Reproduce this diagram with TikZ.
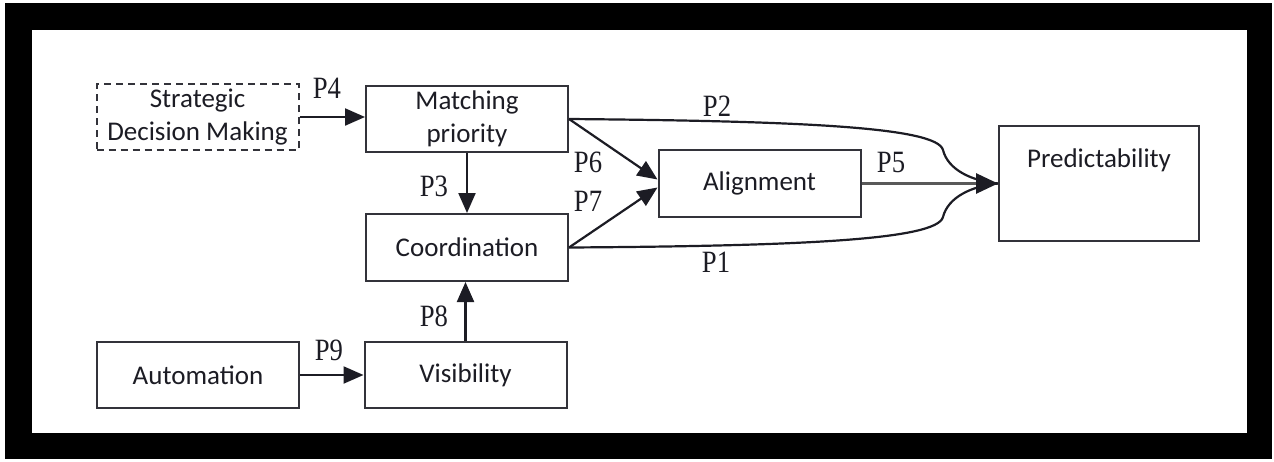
\documentclass[tikz,border=0pt]{standalone}
\usepackage{fontspec}
\setmainfont{Carlito}
\newfontfamily\labfont[FakeStretch=0.86]{Liberation Serif}
\usetikzlibrary{arrows.meta}
\definecolor{ink}{HTML}{1C1C24}
\tikzset{
  x=0.5pt, y=-0.5pt,
  box/.style={draw=ink!90, line width=1pt, minimum width=101pt, minimum height=33pt,
    inner sep=0pt, align=center, text=ink, font=\fontsize{13.5}{16.5}\selectfont},
  dashbox/.style={box, dash pattern=on 3.5pt off 2.5pt},
  arr/.style={-{Triangle[length=10pt,width=8.5pt]}, line width=1.1pt, draw=ink},
  curve/.style={line width=1.1pt, draw=ink},
  plab/.style={inner sep=0pt, text=ink, font=\labfont\fontsize{15.5}{17}\selectfont},
}
\begin{document}
\begin{tikzpicture}
\useasboundingbox (0,0) rectangle (1274,461);
% frame
\fill[white] (0,0) rectangle (1274,461);
\fill[black] (5,3) rectangle (1272,459);
\fill[white] (32,30) rectangle (1247,433);

% boxes
\node[dashbox] (sdm) at (197.5,117) {Strategic\\Decision Making};
\node[box] (mp) at (467,119) {Matching\\priority};
\node[box, minimum height=33.5pt] (co) at (467,247.5) {Coordination};
\node[box, minimum height=33.5pt] (al) at (759.5,183.5) {Alignment};
\node[box, minimum width=100pt, minimum height=0pt, text height=20.5pt, text depth=37pt] (pred) at (1099,183.5) {Predictability};
\node[box] (au) at (198,375) {Automation};
\node[box] (vi) at (465.5,375) {Visibility};

% curved paths into predictability
\draw[curve] (mp.east) .. controls (800,121) and (937,127) .. (943,150)
  .. controls (948,170) and (972,181) .. (pred.west);
\draw[curve] (co.east) .. controls (800,246) and (937,240) .. (943,217)
  .. controls (948,197) and (972,186) .. (pred.west);

% straight arrows
\draw[arr] (sdm.east) -- (sdm.east -| mp.west);
\draw[arr] (mp.south) -- (co.north);
\draw[arr] (vi.north) -- (vi.north |- co.south);
\draw[arr] (au.east) -- (vi.west);
\draw[arr] (mp.east) -- ([yshift=2pt]al.west);
\draw[arr] (co.east) -- ([yshift=-2pt]al.west);
\draw[-{Triangle[length=11pt,width=10pt,color=ink]}, draw=black!65, line width=1.4pt]
  (al.east) -- (pred.west);

% labels
\node[plab] (l1) at (716,262) {P1};
\node[plab] (l2) at (717,106) {P2};
\node[plab] (l3) at (434,186) {P3};
\node[plab] (l4) at (327,88) {P4};
\node[plab] (l5) at (891,162) {P5};
\node[plab] (l6) at (588,162) {P6};
\node[plab] (l7) at (588,201) {P7};
\node[plab] (l8) at (434,316) {P8};
\node[plab] (l9) at (329,350) {P9};
\end{tikzpicture}
\end{document}
